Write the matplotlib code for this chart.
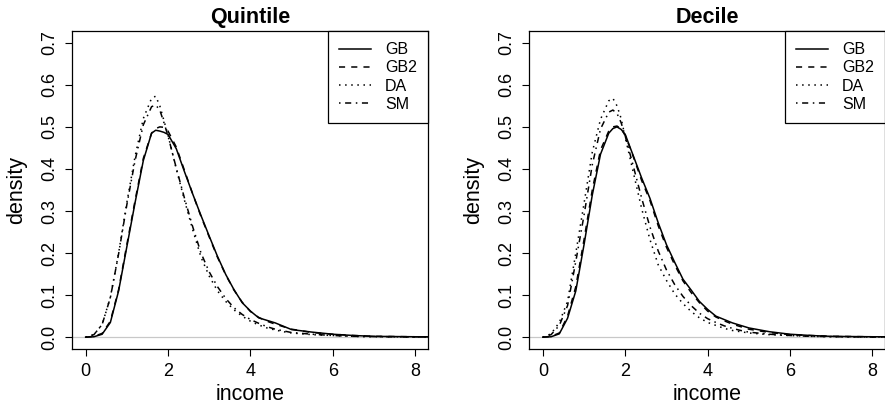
import numpy as np
import matplotlib.pyplot as plt

plt.rcParams['font.family'] = ['Liberation Sans', 'DejaVu Sans']

income = [0.0, 0.2, 0.4, 0.6, 0.8, 1.0, 1.2, 1.4, 1.6, 1.7, 1.8, 1.9, 2.0, 2.2, 2.4, 2.6, 2.8,
          3.0, 3.2, 3.4, 3.6, 3.8, 4.0, 4.2, 4.4, 4.6, 4.8, 5.0, 5.5, 6.0, 6.5, 7.0, 7.5, 8.0, 8.4]

# Quintile panel
q_gb  = [0.0, 0.001, 0.007, 0.035, 0.110, 0.215, 0.320, 0.420, 0.485, 0.492, 0.490, 0.487, 0.482, 0.448,
         0.393, 0.340, 0.289, 0.240, 0.192, 0.149, 0.113, 0.082, 0.062, 0.046, 0.040, 0.034, 0.026, 0.018,
         0.012, 0.007, 0.004, 0.002, 0.0015, 0.001, 0.001]
q_gb2 = [0.0, 0.002, 0.009, 0.038, 0.113, 0.220, 0.325, 0.425, 0.485, 0.496, 0.500, 0.499, 0.490, 0.452,
         0.396, 0.340, 0.287, 0.238, 0.190, 0.148, 0.112, 0.083, 0.061, 0.047, 0.038, 0.031, 0.025, 0.019,
         0.011, 0.007, 0.004, 0.002, 0.0015, 0.001, 0.001]
q_da  = [0.0, 0.006, 0.030, 0.095, 0.200, 0.320, 0.430, 0.520, 0.568, 0.573, 0.550, 0.515, 0.480, 0.400,
         0.325, 0.255, 0.190, 0.145, 0.110, 0.085, 0.065, 0.050, 0.038, 0.029, 0.022, 0.017, 0.013, 0.010,
         0.006, 0.004, 0.002, 0.001, 0.001, 0.0005, 0.0005]
q_sm  = [0.0, 0.006, 0.030, 0.094, 0.198, 0.315, 0.420, 0.505, 0.548, 0.552, 0.540, 0.510, 0.478, 0.402,
         0.330, 0.262, 0.200, 0.155, 0.120, 0.092, 0.070, 0.054, 0.042, 0.033, 0.025, 0.019, 0.015, 0.011,
         0.007, 0.004, 0.002, 0.0015, 0.001, 0.0005, 0.0005]

# Decile panel
d_gb  = [0.0, 0.001, 0.008, 0.045, 0.110, 0.220, 0.338, 0.435, 0.485, 0.496, 0.500, 0.494, 0.482, 0.430,
         0.378, 0.330, 0.272, 0.220, 0.178, 0.138, 0.112, 0.085, 0.066, 0.050, 0.042, 0.034, 0.028, 0.022,
         0.013, 0.007, 0.004, 0.002, 0.0015, 0.001, 0.001]
d_gb2 = [0.0, 0.002, 0.010, 0.050, 0.120, 0.232, 0.350, 0.445, 0.490, 0.500, 0.502, 0.495, 0.480, 0.428,
         0.372, 0.325, 0.265, 0.214, 0.172, 0.134, 0.106, 0.082, 0.062, 0.048, 0.039, 0.031, 0.025, 0.019,
         0.011, 0.006, 0.004, 0.002, 0.0015, 0.001, 0.001]
d_da  = [0.0, 0.008, 0.035, 0.085, 0.200, 0.318, 0.440, 0.518, 0.562, 0.568, 0.550, 0.520, 0.475, 0.390,
         0.305, 0.232, 0.172, 0.135, 0.103, 0.080, 0.061, 0.046, 0.035, 0.028, 0.021, 0.016, 0.013, 0.010,
         0.006, 0.004, 0.002, 0.001, 0.001, 0.0005, 0.0005]
d_sm  = [0.0, 0.006, 0.028, 0.075, 0.180, 0.290, 0.410, 0.495, 0.535, 0.540, 0.532, 0.510, 0.478, 0.405,
         0.330, 0.262, 0.205, 0.160, 0.125, 0.097, 0.075, 0.057, 0.044, 0.035, 0.027, 0.021, 0.016, 0.012,
         0.007, 0.004, 0.002, 0.0015, 0.001, 0.0005, 0.0005]

labels = ["GB", "GB2", "DA", "SM"]
styles = ["-", (0, (4, 4)), (0, (1, 3)), (0, (1, 3, 4, 3))]

fig = plt.figure(figsize=(8.85, 4.12), dpi=100)
ax1 = fig.add_axes([0.0814, 0.153, 0.4023, 0.7718])
ax2 = fig.add_axes([0.598, 0.153, 0.4023, 0.7718])

for ax, title, series in [(ax1, "Quintile", [q_gb, q_gb2, q_da, q_sm]),
                          (ax2, "Decile", [d_gb, d_gb2, d_da, d_sm])]:
    ax.axhline(0, color="#c8c8c8", lw=0.9, zorder=1)
    for y, lab, ls in zip(series, labels, styles):
        ax.plot(income, y, color="black", lw=1.1, linestyle=ls, label=lab)
    ax.set_xlim(-0.33, 8.31)
    ax.set_ylim(-0.028, 0.728)
    ax.set_xticks([0, 2, 4, 6, 8])
    ax.set_yticks(np.arange(0, 0.71, 0.1))
    ax.set_yticklabels(["%.1f" % v for v in np.arange(0, 0.71, 0.1)], rotation=90, va="center")
    ax.tick_params(direction="out", length=5, width=0.8, labelsize=13, pad=5)
    ax.set_xlabel("income", fontsize=15.5, labelpad=3)
    ax.set_ylabel("density", fontsize=15.5, labelpad=10)
    ax.set_title(title, fontsize=15.5, fontweight="bold", pad=6)
    for s in ax.spines.values():
        s.set_linewidth(0.9)
    leg = ax.legend(loc="upper right", fontsize=11.5, frameon=True, fancybox=False,
                    edgecolor="black", framealpha=1, borderaxespad=0, handlelength=2.0,
                    labelspacing=0.2, borderpad=0.7, handletextpad=0.9)
    leg.get_frame().set_linewidth(0.9)

fig.savefig("out.png", dpi=100)
